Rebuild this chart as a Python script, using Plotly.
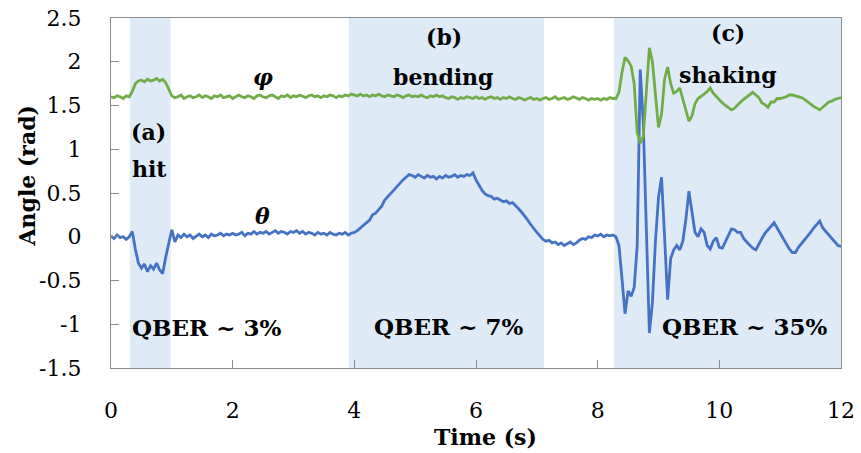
import plotly.graph_objects as go

TIME_STEP = 0.05  # sampling interval (s)

phi = [
    1.60, 1.59, 1.61, 1.60, 1.58, 1.61, 1.60, 1.66, 1.75, 1.78,
    1.79, 1.77, 1.80, 1.78, 1.79, 1.81, 1.78, 1.80, 1.76, 1.69,
    1.61, 1.59, 1.60, 1.62, 1.58, 1.60, 1.61, 1.59, 1.60, 1.62,
    1.59, 1.61, 1.60, 1.58, 1.61, 1.60, 1.62, 1.59, 1.60, 1.61,
    1.58, 1.60, 1.62, 1.60, 1.59, 1.61, 1.60, 1.58, 1.61, 1.62,
    1.60, 1.59, 1.61, 1.62, 1.60, 1.58, 1.61, 1.60, 1.62, 1.59,
    1.61, 1.60, 1.62, 1.60, 1.59, 1.61, 1.62, 1.60, 1.61, 1.59,
    1.61, 1.60, 1.62, 1.61, 1.59, 1.61, 1.60, 1.62, 1.61, 1.63,
    1.62, 1.61, 1.63, 1.61, 1.62, 1.60, 1.62, 1.61, 1.63, 1.61,
    1.60, 1.62, 1.61, 1.60, 1.62, 1.61, 1.59, 1.61, 1.62, 1.60,
    1.61, 1.60, 1.62, 1.60, 1.59, 1.61, 1.60, 1.62, 1.60, 1.61,
    1.59, 1.58, 1.60, 1.59, 1.57, 1.59, 1.58, 1.60, 1.59, 1.58,
    1.60, 1.58, 1.59, 1.57, 1.59, 1.60, 1.58, 1.59, 1.57, 1.59,
    1.58, 1.60, 1.58, 1.57, 1.59, 1.58, 1.56, 1.58, 1.59, 1.57,
    1.58, 1.56, 1.58, 1.59, 1.57, 1.58, 1.60, 1.57, 1.58, 1.59,
    1.57, 1.58, 1.60, 1.58, 1.57, 1.59, 1.58, 1.56, 1.58, 1.57,
    1.58, 1.56, 1.58, 1.57, 1.59, 1.58,
    1.58, 1.65, 1.88, 2.05,
    2.01, 1.95, 1.75, 1.19, 1.07, 1.15, 1.65, 2.16, 2.00, 1.65,
    1.25, 1.40, 1.80, 1.94, 1.75, 1.64, 1.66, 1.70, 1.58, 1.45,
    1.32, 1.38, 1.52, 1.58, 1.60, 1.63, 1.66, 1.70, 1.64, 1.60,
    1.56, 1.53, 1.50, 1.47, 1.45, 1.47, 1.51, 1.54, 1.57, 1.60,
    1.63, 1.65, 1.62, 1.59, 1.53, 1.51, 1.48, 1.54, 1.54, 1.58,
    1.58, 1.59, 1.60, 1.62, 1.62, 1.61, 1.60, 1.59, 1.57, 1.54,
    1.52, 1.49, 1.47, 1.45, 1.48, 1.51, 1.54, 1.55, 1.57, 1.58,
    1.59,
]

theta = [
    0.01, -0.02, 0.02, -0.01, 0.00, -0.03, 0.00, 0.06, -0.14, -0.30,
    -0.36, -0.31, -0.40, -0.33, -0.37, -0.30, -0.38, -0.42, -0.23, -0.07,
    0.08, -0.06, 0.02, -0.01, 0.03, 0.00, 0.02, -0.02, 0.01, 0.03,
    0.00, 0.02, -0.01, 0.03, 0.01, 0.02, 0.04, 0.01, 0.03, 0.02,
    0.04, 0.02, 0.03, 0.05, 0.01, 0.04, 0.03, 0.06, 0.03, 0.05,
    0.04, 0.06, 0.03, 0.05, 0.07, 0.04, 0.06, 0.05, 0.03, 0.06,
    0.05, 0.07, 0.04, 0.06, 0.03, 0.05, 0.04, 0.02, 0.05, 0.03,
    0.04, 0.02, 0.05, 0.03, 0.02, 0.04, 0.03, 0.05, 0.02, 0.04,
    0.05, 0.07, 0.10, 0.12, 0.16, 0.19, 0.25, 0.27, 0.31, 0.35,
    0.42, 0.46, 0.50, 0.54, 0.58, 0.61, 0.65, 0.68, 0.71, 0.70,
    0.68, 0.71, 0.69, 0.67, 0.70, 0.68, 0.69, 0.66, 0.69, 0.67,
    0.70, 0.68, 0.69, 0.71, 0.68, 0.70, 0.69, 0.71, 0.70, 0.73,
    0.65, 0.59, 0.53, 0.49, 0.47, 0.46, 0.43, 0.44, 0.42, 0.40,
    0.41, 0.38, 0.39, 0.36, 0.32, 0.28, 0.24, 0.19, 0.14, 0.09,
    0.05, 0.01, -0.03, -0.05, -0.04, -0.07, -0.06, -0.09, -0.07, -0.10,
    -0.08, -0.06, -0.09, -0.07, -0.04, -0.02, -0.03, 0.00, -0.01, 0.02,
    0.01, 0.03, 0.00, 0.02, 0.01, 0.02,
    0.00, -0.10, -0.48, -0.88,
    -0.62, -0.68, -0.58, -0.10, 1.91, 1.30, 0.10, -1.10, -0.75, -0.05,
    0.45, 0.68, 0.00, -0.72, -0.25, -0.15, -0.10, -0.15, -0.05, 0.20,
    0.52, 0.30, 0.05, 0.00, 0.09, 0.05, -0.10, -0.14, -0.05, -0.01,
    -0.12, -0.13, -0.05, 0.03, 0.09, 0.08, 0.05, 0.05, -0.02, -0.06,
    -0.10, -0.13, -0.15, -0.08, -0.02, 0.04, 0.08, 0.12, 0.16, 0.10,
    0.04, -0.03, -0.09, -0.14, -0.18, -0.18, -0.12, -0.08, -0.04, 0.00,
    0.05, 0.10, 0.14, 0.18, 0.10, 0.06, 0.02, -0.02, -0.06, -0.10,
    -0.11,
]

time = [round(i * TIME_STEP, 3) for i in range(len(phi))]

# shaded event regions (s)
region_starts = [0.31, 3.91, 8.27]
region_ends = [0.98, 7.12, 12.0]

x_ticks = [0, 2, 4, 6, 8, 10, 12]
y_ticks = [-1.5, -1, -0.5, 0, 0.5, 1, 1.5, 2, 2.5]
y_tick_text = ["-1.5", "-1", "-0.5", "0", "0.5", "1", "1.5", "2", "2.5"]

FONT = "DejaVu Serif"
GREEN = "#70AD47"
BLUE = "#4472C4"
SHADE = "#DEEBF7"
AXIS = "#8C8C8C"

fig = go.Figure()
fig.add_trace(go.Scatter(x=time, y=theta, mode="lines",
                         line=dict(color=BLUE, width=2.8), showlegend=False))
fig.add_trace(go.Scatter(x=time, y=phi, mode="lines",
                         line=dict(color=GREEN, width=2.8), showlegend=False))

for a, b in zip(region_starts, region_ends):
    fig.add_shape(type="rect", xref="x", yref="paper", x0=a, x1=b, y0=0, y1=1,
                  fillcolor=SHADE, line=dict(width=0), layer="below")

labels = [
    ("<b><i>φ</i></b>", 2.5, 1.83, 22),
    ("<b><i>θ</i></b>", 2.49, 0.24, 22),
    ("<b>(a)</b>", 0.62, 1.20, 22),
    ("<b>hit</b>", 0.63, 0.77, 22),
    ("<b>(b)</b>", 5.47, 2.28, 22),
    ("<b>bending</b>", 5.47, 1.83, 22),
    ("<b>(c)</b>", 10.14, 2.33, 22),
    ("<b>shaking</b>", 10.14, 1.85, 22),
    ("<b>QBER ~ 3%</b>", 1.57, -1.04, 23),
    ("<b>QBER ~ 7%</b>", 5.54, -1.03, 23),
    ("<b>QBER ~ 35%</b>", 10.41, -1.02, 23),
]
for txt, x, y, s in labels:
    fig.add_annotation(x=x, y=y, xref="x", yref="y", text=txt, showarrow=False,
                       font=dict(family=FONT, size=s, color="black"),
                       xanchor="center", yanchor="middle")

fig.add_annotation(x=-0.115, y=0.55, xref="paper", yref="paper",
                   text="<b>Angle (rad)</b>", textangle=-90, showarrow=False,
                   font=dict(family=FONT, size=22, color="black"),
                   xanchor="center", yanchor="middle")
fig.add_annotation(x=0.5125, y=-0.197, xref="paper", yref="paper",
                   text="<b>Time (s)</b>", showarrow=False,
                   font=dict(family=FONT, size=22, color="black"),
                   xanchor="center", yanchor="middle")

fig.update_layout(
    width=861, height=453,
    margin=dict(l=111, r=20, t=18, b=85, autoexpand=False),
    paper_bgcolor="white", plot_bgcolor="white",
    font=dict(family=FONT, size=22, color="black"),
)
fig.update_xaxes(range=[0, 12], tickvals=x_ticks, ticks="inside", ticklen=8,
                 tickcolor=AXIS, showline=True, linecolor=AXIS, linewidth=1.3,
                 mirror=True, showgrid=False, zeroline=False, automargin=False,
                 ticklabelstandoff=22, tickfont=dict(family=FONT, size=22))
fig.update_yaxes(range=[-1.5, 2.5], tickvals=y_ticks, ticktext=y_tick_text,
                 ticks="inside", ticklen=8, tickcolor=AXIS, showline=True,
                 linecolor=AXIS, linewidth=1.3, mirror=True, showgrid=False,
                 zeroline=False, ticklabelstandoff=24, automargin=False,
                 tickfont=dict(family=FONT, size=22))

fig.write_html("out.html")
